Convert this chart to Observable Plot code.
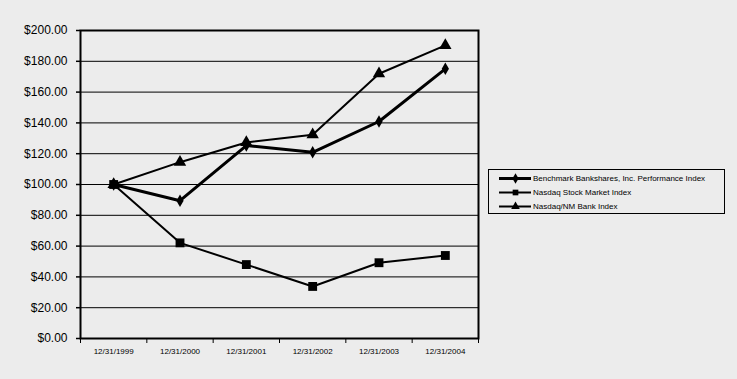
<!DOCTYPE html>
<html>
<head>
<meta charset="utf-8">
<script src="https://cdn.jsdelivr.net/npm/d3@7"></script>
<script src="https://cdn.jsdelivr.net/npm/@observablehq/plot@0.6"></script>
<style>
  html, body { margin: 0; padding: 0; background: #ececec; }
  #wrap { position: relative; width: 737px; height: 379px; overflow: hidden; }
  #legend { position: absolute; left: 488px; top: 169px; width: 237px; height: 45px; border: 1px solid #000; box-sizing: border-box;
    font-family: Arial, "Liberation Sans", sans-serif; font-size: 8px; color: #000; padding-top: 1px; }
  .row { display: flex; align-items: center; height: 14px; }
  .row svg { margin-left: 10px; margin-right: 2px; }
</style>
</head>
<body>
<div id="wrap"><div id="chart"></div><div id="legend"></div></div>
<script>
const categories = ["12/31/1999", "12/31/2000", "12/31/2001", "12/31/2002", "12/31/2003", "12/31/2004"];
const seriesNames = ["Benchmark Bankshares, Inc. Performance Index", "Nasdaq Stock Market Index", "Nasdaq/NM Bank Index"];
const benchmark = [100, 89.5, 125.3, 120.9, 140.9, 175.1];
const nasdaqStock = [100, 62.1, 48.0, 33.8, 49.2, 53.9];
const nasdaqBank = [100, 114.5, 127.3, 132.3, 171.9, 190.3];
const yTicks = [0, 20, 40, 60, 80, 100, 120, 140, 160, 180, 200];

const seriesValues = [benchmark, nasdaqStock, nasdaqBank];
const symbols = ["diamond", "square", "triangle"];
const widths = [3, 2, 2];
const radii = [3.8, 5, 4.6];
const drawOrder = [2, 0, 1];

const data = [];
seriesValues.forEach((vals, s) => vals.forEach((v, i) => data.push({series: seriesNames[s], i, v})));

const idx = categories.map((_, i) => i);
const bounds = categories.map((_, i) => i - 0.5).concat([categories.length - 0.5]);

const marks = [
  Plot.gridY(yTicks, {stroke: "#000", strokeOpacity: 1, strokeWidth: 1}),
  Plot.axisY({ticks: yTicks, tickFormat: d => "$" + d.toFixed(2), tickSize: 4, tickPadding: 9, fontSize: 12, strokeWidth: 1.5, label: null}),
  Plot.axisX({ticks: bounds, tickFormat: () => "", tickSize: 5, strokeWidth: 1, label: null}),
  Plot.axisX({ticks: idx, tickFormat: i => categories[i], tickSize: 0, tickPadding: 10, fontSize: 8, label: null}),
  Plot.frame({stroke: "#000", strokeWidth: 2})
];
drawOrder.forEach(s => {
  const name = seriesNames[s];
  const d = data.filter(r => r.series === name);
  marks.push(Plot.line(d, {x: "i", y: "v", stroke: "#000", strokeWidth: widths[s]}));
  marks.push(Plot.dot(d, {x: "i", y: "v", symbol: () => symbols[s], fill: "#000", stroke: "none", r: radii[s]}));
});

const chart = Plot.plot({
  width: 737,
  height: 379,
  marginLeft: 80,
  marginRight: 259,
  marginTop: 30,
  marginBottom: 41,
  style: {background: "transparent", fontFamily: "Arial, 'Liberation Sans', sans-serif", color: "#000"},
  x: {domain: [-0.5, categories.length - 0.5], label: null},
  y: {domain: [0, 200], label: null},
  symbol: {type: "identity"},
  marks
});
document.getElementById("chart").appendChild(chart);

// legend
const legend = document.getElementById("legend");
seriesNames.forEach((name, s) => {
  const row = document.createElement("div");
  row.className = "row";
  const sw = Plot.plot({
    width: 32, height: 12, margin: 0, axis: null,
    x: {domain: [0, 2]}, y: {domain: [0, 1]},
    style: {background: "transparent"},
    symbol: {type: "identity"},
    marks: [
      Plot.ruleY([0.5], {stroke: "#000", strokeWidth: widths[s]}),
      Plot.dot([1], {x: d => d, y: 0.5, symbol: () => symbols[s], fill: "#000", r: 3.2})
    ]
  });
  row.appendChild(sw);
  const t = document.createElement("span");
  t.textContent = name;
  row.appendChild(t);
  legend.appendChild(row);
});
</script>
</body>
</html>
